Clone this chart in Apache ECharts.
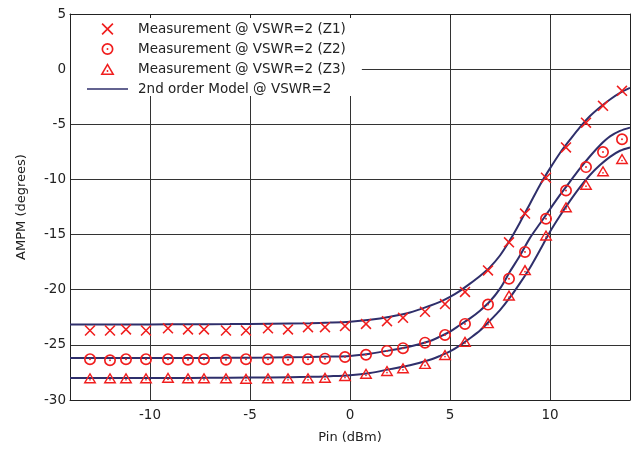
<!DOCTYPE html>
<html>
<head>
<meta charset="utf-8">
<script src="https://cdn.jsdelivr.net/npm/echarts@6/dist/echarts.min.js"></script>
<style>
  html, body { margin: 0; padding: 0; background: #ffffff; }
  #chart { width: 635px; height: 454px; }
</style>
</head>
<body>
<div id="chart"></div>
<script>
// Input power sweep of the measured points (dBm)
const pinMeasured = [-13.0, -12.0, -11.2, -10.2, -9.1, -8.1, -7.3, -6.2, -5.2, -4.1, -3.1, -2.1, -1.25, -0.25,
                     0.8, 1.85, 2.65, 3.75, 4.75, 5.75, 6.9, 7.95, 8.75, 9.8, 10.8, 11.8, 12.65, 13.6];
// Measured AM/PM (degrees) for the three load impedances
const ampmZ1 = [-23.7, -23.7, -23.6, -23.7, -23.5, -23.6, -23.6, -23.7, -23.7, -23.5, -23.6, -23.4, -23.4, -23.3,
                -23.1, -22.85, -22.55, -22.0, -21.3, -20.2, -18.25, -15.7, -13.1, -9.85, -7.1, -4.85, -3.33, -1.97];
const ampmZ2 = [-26.3, -26.4, -26.3, -26.3, -26.3, -26.35, -26.3, -26.35, -26.3, -26.3, -26.35, -26.3, -26.25, -26.1,
                -25.9, -25.55, -25.3, -24.8, -24.1, -23.1, -21.35, -19.0, -16.57, -13.57, -11.0, -8.88, -7.52, -6.36];
const ampmZ3 = [-28.0, -28.0, -28.0, -28.0, -27.95, -28.0, -28.0, -28.0, -28.05, -28.0, -28.0, -28.0, -27.95, -27.8,
                -27.6, -27.35, -27.1, -26.7, -25.9, -24.7, -23.0, -20.5, -18.2, -15.06, -12.5, -10.45, -9.24, -8.12];

// Second order model curves
const pinModel = [-14, -12, -10, -8, -6, -4, -2, -1, 0, 1, 2, 3, 4, 4.5, 5, 5.5, 6, 6.5, 7, 7.5, 8, 8.5,
                  9, 9.5, 10, 10.5, 11, 11.5, 12, 12.5, 13, 13.5, 14];
const modelZ1 = [-23.15, -23.15, -23.15, -23.13, -23.12, -23.08, -23.03, -22.98, -22.9, -22.73, -22.45, -22.06,
                 -21.45, -21.1, -20.65, -20.1, -19.45, -18.75, -17.95, -16.9, -15.5, -13.9,
                 -12.2, -10.5, -9.0, -7.6, -6.4, -5.25, -4.25, -3.45, -2.75, -2.15, -1.7];
const modelZ2 = [-26.2, -26.2, -26.2, -26.2, -26.18, -26.15, -26.1, -26.06, -26.0, -25.8, -25.5, -25.15,
                 -24.65, -24.25, -23.8, -23.2, -22.6, -21.9, -21.05, -19.9, -18.35, -16.9,
                 -15.3, -14.0, -12.7, -11.4, -10.2, -9.0, -7.9, -6.9, -6.1, -5.6, -5.3];
const modelZ3 = [-28.0, -28.0, -28.0, -28.0, -27.98, -27.95, -27.9, -27.84, -27.75, -27.55, -27.2, -26.85,
                 -26.35, -26.0, -25.6, -25.05, -24.4, -23.7, -22.8, -21.85, -20.7, -19.4,
                 -18.0, -16.4, -14.75, -13.3, -11.95, -10.7, -9.6, -8.7, -7.95, -7.4, -7.1];

const legendNames = ['Measurement @ VSWR=2 (Z1)', 'Measurement @ VSWR=2 (Z2)',
                     'Measurement @ VSWR=2 (Z3)', '2nd order Model @ VSWR=2'];

const RED = '#f01e1e';
const NAVY = '#2f2f6b';
const FONT = 'DejaVu Sans';

// marker shapes: cross, ring with centre dot, triangle outline with centre dot
const SYM_CROSS = 'path://M0,2L2,0L20,18L18,20ZM18,0L20,2L2,20L0,18Z';
const SYM_RING = 'path://M0,10A10,10,0,1,1,20,10A10,10,0,1,1,0,10ZM2.8,10A7.2,7.2,0,1,0,17.2,10A7.2,7.2,0,1,0,2.8,10ZM8.4,10A1.6,1.6,0,1,1,11.6,10A1.6,1.6,0,1,1,8.4,10Z';
const SYM_TRI = 'path://M10,0L20,17L0,17ZM10,4.3L3.85,14.8L16.15,14.8ZM8.7,11.3A1.3,1.3,0,1,1,11.3,11.3A1.3,1.3,0,1,1,8.7,11.3Z';
const SYM_LINE = 'path://M0,0H40V1.6H0Z';

const zip = (xs, ys) => xs.map((x, i) => [x, ys[i]]);

function scatter(name, ys, symbol, size) {
  return {
    name, type: 'scatter', z: 3,
    data: zip(pinMeasured, ys),
    symbol, symbolSize: size,
    itemStyle: { color: RED, opacity: 1 },
    emphasis: { disabled: true },
    silent: true
  };
}
function model(ys) {
  return {
    name: legendNames[3], type: 'line', z: 2,
    data: zip(pinModel, ys),
    smooth: 0.3,
    symbol: 'none', showSymbol: false,
    lineStyle: { color: NAVY, width: 2 },
    itemStyle: { color: NAVY },
    emphasis: { disabled: true },
    silent: true
  };
}

const xRange = { type: 'value', min: -14, max: 14, splitNumber: 6, minInterval: 5, maxInterval: 5 };

const chart = echarts.init(document.getElementById('chart'), null, { renderer: 'canvas' });
chart.setOption({
  animation: false,
  backgroundColor: '#ffffff',
  textStyle: { fontFamily: FONT },
  grid: { left: 70, right: 5, top: 14, bottom: 54, containLabel: false },
  legend: {
    orient: 'vertical',
    left: 71, top: 15,
    padding: [7, 16, 0, 16],
    backgroundColor: '#ffffff',
    itemWidth: 41, itemHeight: 12, itemGap: 6,
    textStyle: { fontFamily: FONT, fontSize: 13.5, color: '#222', padding: [0, 0, 0, 5] },
    data: [
      { name: legendNames[0] },
      { name: legendNames[1] },
      { name: legendNames[2] },
      { name: legendNames[3], icon: SYM_LINE }
    ],
    selectedMode: false
  },
  xAxis: [
    Object.assign({}, xRange, {
      position: 'bottom', z: 0,
      axisLine: { show: true, onZero: false, lineStyle: { color: '#222', width: 1 } },
      axisTick: { show: false },
      splitLine: { show: true, lineStyle: { color: '#333', width: 1 } },
      axisLabel: { show: true, margin: 8, color: '#222', fontFamily: FONT, fontSize: 13.5,
                   showMinLabel: false, showMaxLabel: false,
                   formatter: v => (v % 5 === 0 ? String(v) : '') },
      name: 'Pin (dBm)', nameLocation: 'middle', nameGap: 31,
      nameTextStyle: { fontFamily: FONT, fontSize: 13, color: '#222' }
    }),
    Object.assign({}, xRange, {
      position: 'top', z: 5,
      axisLine: { show: true, onZero: false, lineStyle: { color: '#222', width: 1 } },
      axisTick: { show: true, inside: true, length: 4, lineStyle: { color: '#222' } },
      splitLine: { show: false },
      axisLabel: { show: false }
    })
  ],
  yAxis: [
    {
      type: 'value', min: -30, max: 5, interval: 5, position: 'left', z: 0,
      axisLine: { show: true, onZero: false, lineStyle: { color: '#222', width: 1 } },
      axisTick: { show: false },
      splitLine: { show: true, lineStyle: { color: '#333', width: 1 } },
      axisLabel: { show: true, margin: 4, color: '#222', fontFamily: FONT, fontSize: 13.5 },
      name: 'AMPM (degrees)', nameLocation: 'middle', nameGap: 42, nameRotate: 90,
      nameTextStyle: { fontFamily: FONT, fontSize: 13, color: '#222' }
    },
    {
      type: 'value', min: -30, max: 5, interval: 5, position: 'right', z: 5,
      axisLine: { show: true, onZero: false, lineStyle: { color: '#222', width: 1 } },
      axisTick: { show: false },
      splitLine: { show: false },
      axisLabel: { show: false }
    }
  ],
  series: [
    scatter(legendNames[0], ampmZ1, SYM_CROSS, 11),
    scatter(legendNames[1], ampmZ2, SYM_RING, 12),
    scatter(legendNames[2], ampmZ3, SYM_TRI, [13, 11]),
    model(modelZ1),
    model(modelZ2),
    model(modelZ3)
  ]
});
</script>
</body>
</html>
